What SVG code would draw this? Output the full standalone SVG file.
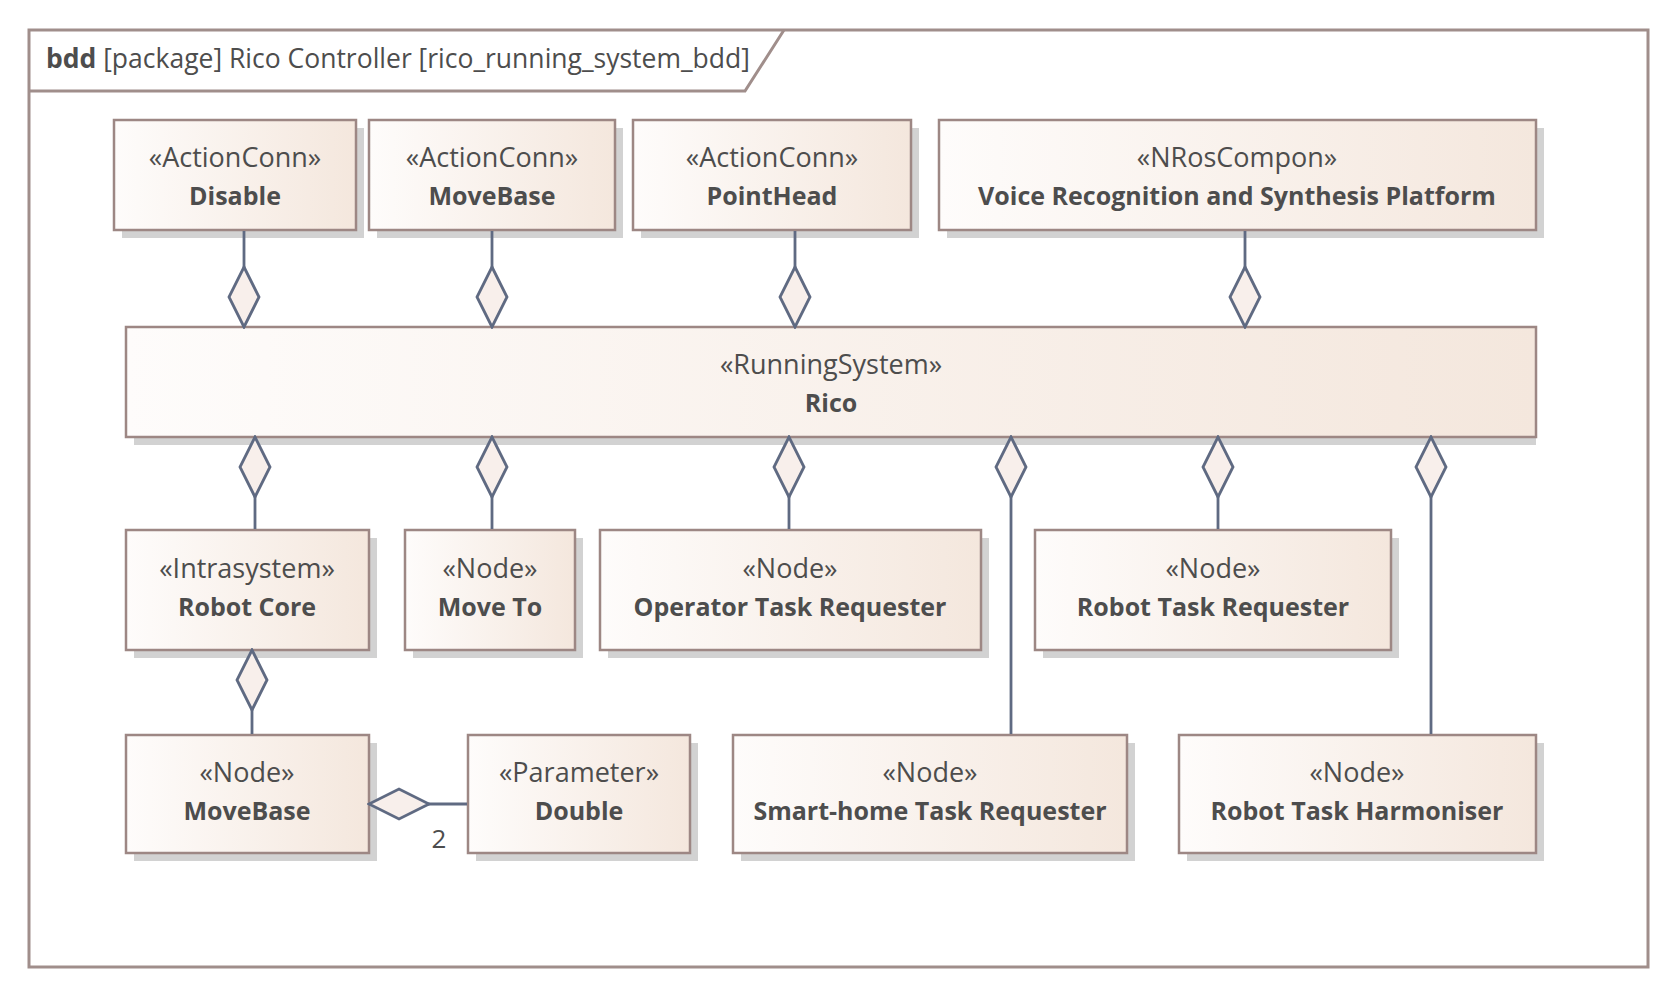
<svg xmlns="http://www.w3.org/2000/svg" width="1677" height="996" viewBox="0 0 1677 996">
<defs>
<linearGradient id="fillg" x1="0" y1="0" x2="1" y2="0">
<stop offset="0" stop-color="#FEFCFB"/>
<stop offset="1" stop-color="#F4E7DD"/>
</linearGradient>
<marker id="agg" viewBox="-2 -2 64 34" refX="60" refY="15" markerWidth="64" markerHeight="34" orient="auto" markerUnits="userSpaceOnUse">
<path d="M0,15 L30,0 L60,15 L30,30 Z" fill="#F8EFEB" stroke="#5F6A82" stroke-width="2.8" stroke-linejoin="miter"/>
</marker>
<style>
.box{fill:url(#fillg);stroke:#9D8784;stroke-width:2.5}
.sh{fill:#D2D2D2}
.st{font-family:"Open Sans","Noto Sans",sans-serif;font-size:27px;fill:#4D4D4D;text-anchor:middle}
.nm{font-family:"Open Sans","Noto Sans",sans-serif;font-size:25px;font-weight:bold;fill:#4D4D4D;text-anchor:middle}
.con{fill:none;stroke:#5F6A82;stroke-width:2.8;marker-end:url(#agg)}
.lbl{font-family:"Open Sans","Noto Sans",sans-serif;font-size:26px;fill:#4D4D4D;text-anchor:middle}
</style>
</defs>
<rect width="1677" height="996" fill="#FFFFFF"/>
<g id="frame">
<rect x="29" y="30" width="1619" height="937" fill="none" stroke="#A08E8B" stroke-width="3"/>
<polyline points="29,91 745,91 784,30" fill="none" stroke="#A08E8B" stroke-width="3"/>
<text x="46" y="68" font-family="Open Sans, Noto Sans, sans-serif" font-size="26.5" fill="#4D4D4D"><tspan font-weight="bold">bdd</tspan> [package] Rico Controller [rico_running_system_bdd]</text>
</g>
<g id="disable">
<rect class="sh" x="122" y="128" width="242" height="110"/>
<rect class="box" x="114" y="120" width="242" height="110"/>
<text class="st" x="235" y="167">«ActionConn»</text>
<text class="nm" x="235" y="205">Disable</text>
</g>
<g id="movebase-action">
<rect class="sh" x="377" y="128" width="246" height="110"/>
<rect class="box" x="369" y="120" width="246" height="110"/>
<text class="st" x="492" y="167">«ActionConn»</text>
<text class="nm" x="492" y="205">MoveBase</text>
</g>
<g id="pointhead">
<rect class="sh" x="641" y="128" width="278" height="110"/>
<rect class="box" x="633" y="120" width="278" height="110"/>
<text class="st" x="772" y="167">«ActionConn»</text>
<text class="nm" x="772" y="205">PointHead</text>
</g>
<g id="voice">
<rect class="sh" x="947" y="128" width="597" height="110"/>
<rect class="box" x="939" y="120" width="597" height="110"/>
<text class="st" x="1237" y="167">«NRosCompon»</text>
<text class="nm" x="1237" y="205">Voice Recognition and Synthesis Platform</text>
</g>
<g id="rico">
<rect class="sh" x="134" y="335" width="1402" height="110"/>
<rect class="box" x="126" y="327" width="1410" height="110"/>
<text class="st" x="831" y="374">«RunningSystem»</text>
<text class="nm" x="831" y="412">Rico</text>
</g>
<g id="robot-core">
<rect class="sh" x="134" y="538" width="243" height="120"/>
<rect class="box" x="126" y="530" width="243" height="120"/>
<text class="st" x="247" y="578">«Intrasystem»</text>
<text class="nm" x="247" y="616">Robot Core</text>
</g>
<g id="move-to">
<rect class="sh" x="413" y="538" width="170" height="120"/>
<rect class="box" x="405" y="530" width="170" height="120"/>
<text class="st" x="490" y="578">«Node»</text>
<text class="nm" x="490" y="616">Move To</text>
</g>
<g id="operator">
<rect class="sh" x="608" y="538" width="381" height="120"/>
<rect class="box" x="600" y="530" width="381" height="120"/>
<text class="st" x="790" y="578">«Node»</text>
<text class="nm" x="790" y="616">Operator Task Requester</text>
</g>
<g id="robot-task-requester">
<rect class="sh" x="1043" y="538" width="356" height="120"/>
<rect class="box" x="1035" y="530" width="356" height="120"/>
<text class="st" x="1213" y="578">«Node»</text>
<text class="nm" x="1213" y="616">Robot Task Requester</text>
</g>
<g id="movebase-node">
<rect class="sh" x="134" y="743" width="243" height="118"/>
<rect class="box" x="126" y="735" width="243" height="118"/>
<text class="st" x="247" y="782">«Node»</text>
<text class="nm" x="247" y="820">MoveBase</text>
</g>
<g id="double">
<rect class="sh" x="476" y="743" width="222" height="118"/>
<rect class="box" x="468" y="735" width="222" height="118"/>
<text class="st" x="579" y="782">«Parameter»</text>
<text class="nm" x="579" y="820">Double</text>
</g>
<g id="smart-home">
<rect class="sh" x="741" y="743" width="394" height="118"/>
<rect class="box" x="733" y="735" width="394" height="118"/>
<text class="st" x="930" y="782">«Node»</text>
<text class="nm" x="930" y="820">Smart-home Task Requester</text>
</g>
<g id="harmoniser">
<rect class="sh" x="1187" y="743" width="357" height="118"/>
<rect class="box" x="1179" y="735" width="357" height="118"/>
<text class="st" x="1357" y="782">«Node»</text>
<text class="nm" x="1357" y="820">Robot Task Harmoniser</text>
</g>
<g id="connectors">
<path class="con" d="M244,231 V327"/>
<path class="con" d="M492,231 V327"/>
<path class="con" d="M795,231 V327"/>
<path class="con" d="M1245,231 V327"/>
<path class="con" d="M255,529 V437"/>
<path class="con" d="M492,529 V437"/>
<path class="con" d="M789,529 V437"/>
<path class="con" d="M1011,734 V437"/>
<path class="con" d="M1218,529 V437"/>
<path class="con" d="M1431,734 V437"/>
<path class="con" d="M252,734 V650"/>
<path class="con" d="M467,804 H369"/>
<text class="lbl" x="439" y="848">2</text>
</g>
</svg>
